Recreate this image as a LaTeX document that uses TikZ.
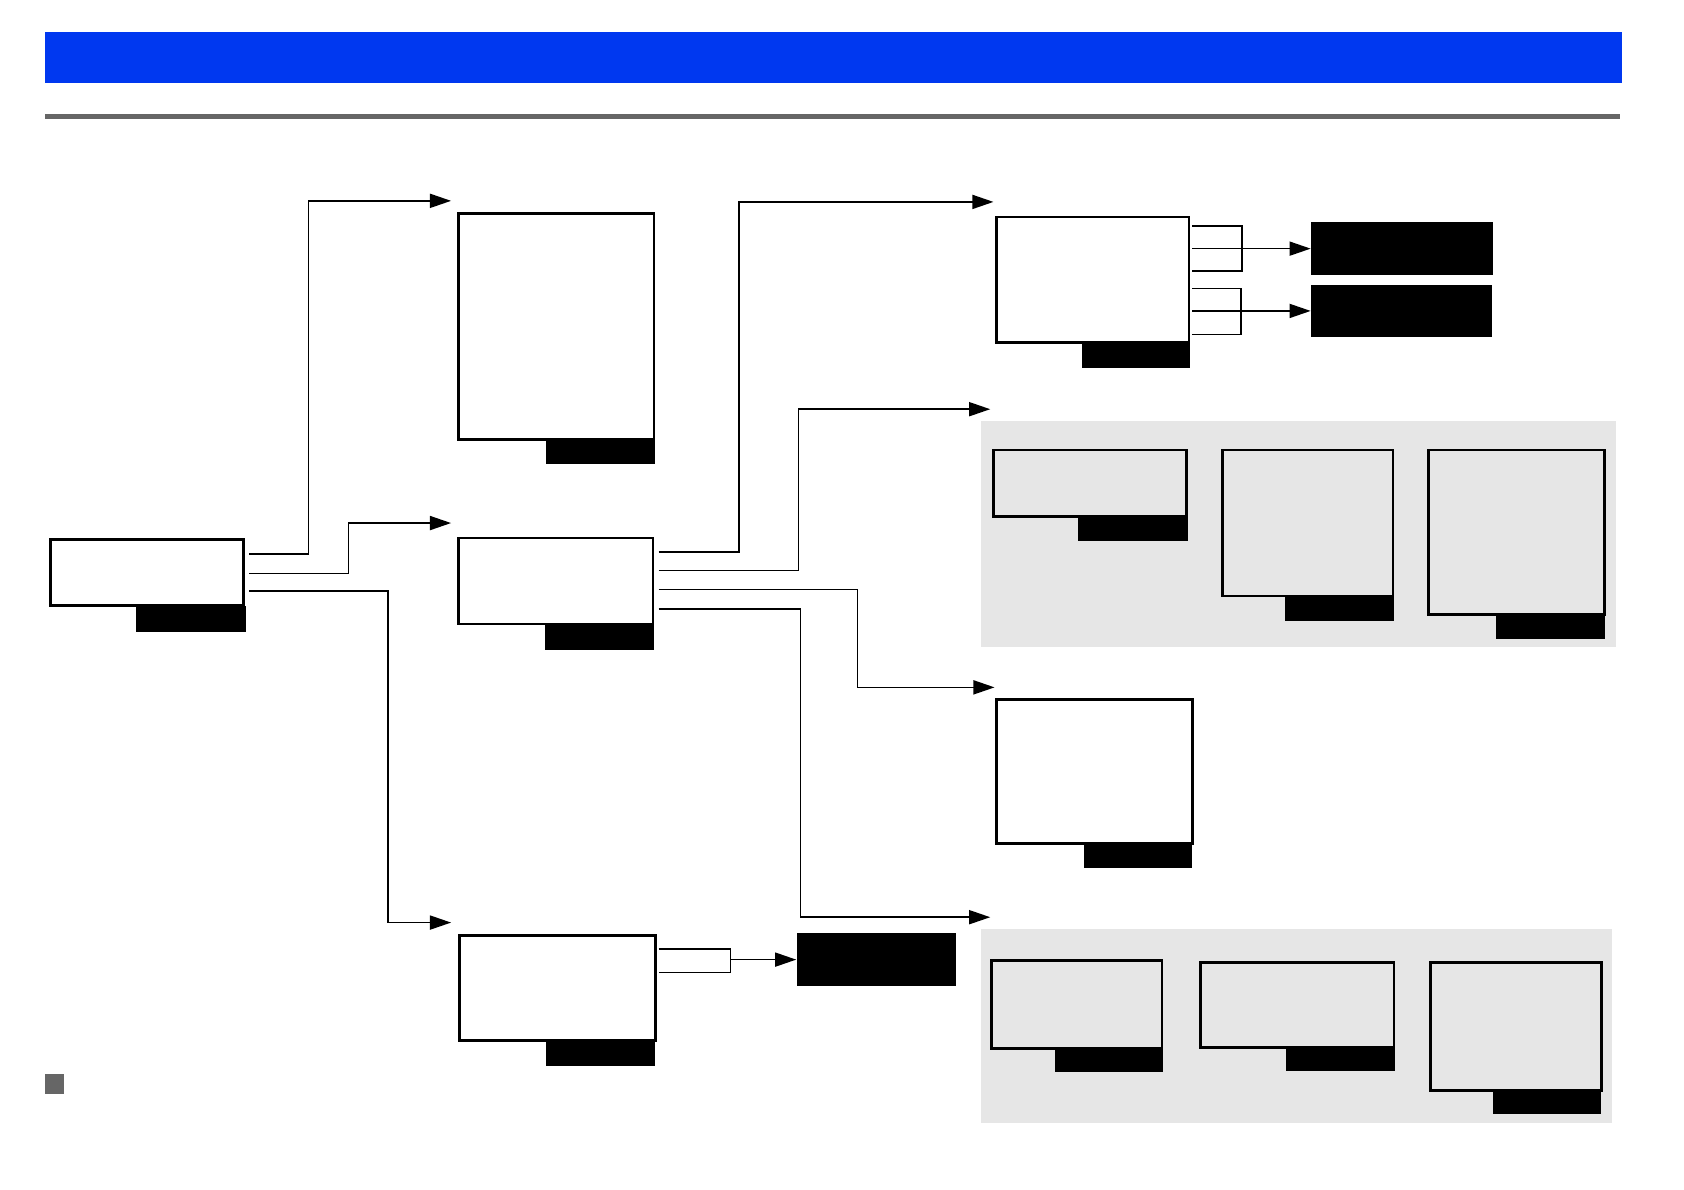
\documentclass[tikz,border=0pt]{standalone}
\usepackage{tikz}
\usepackage{xcolor}
\usetikzlibrary{arrows.meta,fit,backgrounds}
\definecolor{headerblue}{RGB}{0, 56, 240}
\definecolor{rulegray}{RGB}{102, 102, 102}
\definecolor{panelgray}{RGB}{230, 230, 230}

\begin{document}
\begin{tikzpicture}[
    x=0.01074cm, y=-0.01074cm,
    box/.style={rectangle, inner sep=0pt, draw=black, line width=0.8pt},
    tag/.style={rectangle, inner sep=0pt, fill=black},
    panel/.style={rectangle, inner sep=0pt, fill=panelgray},
    link/.style={line width=0.45pt},
    arrow/.style={line width=0.45pt, -{Triangle[length=6pt,width=4pt]}}
]
\useasboundingbox (0,0) rectangle (1568,1108);

% Header
\node[fit={(42,30)(1510,77)}, inner sep=0pt, fill=headerblue] (header) {};
\draw[rulegray, line width=1.2pt] (42,108.5) -- (1508,108.5);
\node[fit={(42,1000)(60,1019)}, inner sep=0pt, fill=rulegray] (marker) {};

% Source
\node[box, fit={(47,502)(227,564)}] (source) {};
\node[tag, fit={(127,564)(229,588)}] (source_tag) {};

% Middle column
\node[box, fit={(427,199)(609,409)}] (upper) {};
\node[tag, fit={(508,409)(610,432)}] (upper_tag) {};
\node[box, fit={(427,501)(608,581)}] (center) {};
\node[tag, fit={(507,581)(609,605)}] (center_tag) {};
\node[box, fit={(428,871)(610,969)}] (lower) {};
\node[tag, fit={(508,969)(610,993)}] (lower_tag) {};
\node[tag, fit={(742,869)(890,918)}] (lower_out) {};

% Right column
\node[box, fit={(928,202)(1107,319)}] (branch) {};
\node[tag, fit={(1007,319)(1108,343)}] (branch_tag) {};
\node[tag, fit={(1221,207)(1390,256)}] (out_a) {};
\node[tag, fit={(1221,265)(1389,314)}] (out_b) {};

\node[box, fit={(925,419)(1105,481)}] (panel_a1) {};
\node[tag, fit={(1004,481)(1106,504)}] (panel_a1_tag) {};
\node[box, fit={(1138,419)(1297,555)}] (panel_a2) {};
\node[tag, fit={(1196,555)(1298,578)}] (panel_a2_tag) {};
\node[box, fit={(1330,419)(1494,572)}] (panel_a3) {};
\node[tag, fit={(1393,572)(1494,595)}] (panel_a3_tag) {};

\node[box, fit={(928,651)(1110,785)}] (single) {};
\node[tag, fit={(1009,785)(1110,808)}] (single_tag) {};

\node[box, fit={(923,894)(1082,976)}] (panel_b1) {};
\node[tag, fit={(982,976)(1083,998)}] (panel_b1_tag) {};
\node[box, fit={(1118,896)(1298,975)}] (panel_b2) {};
\node[tag, fit={(1197,975)(1299,997)}] (panel_b2_tag) {};
\node[box, fit={(1332,896)(1491,1015)}] (panel_b3) {};
\node[tag, fit={(1390,1015)(1491,1037)}] (panel_b3_tag) {};

% Arrow targets
\coordinate (to_upper) at (420,187);
\coordinate (to_center) at (420,487);
\coordinate (to_lower) at (420,859);
\coordinate (to_branch) at (925,188);
\coordinate (to_panel_a) at (922,381);
\coordinate (to_single) at (926,640);
\coordinate (to_panel_b) at (922,854);

% Connections
\draw[arrow] ([shift={(4,-17)}]source.east) -- ++(55,0) |- (to_upper);
\draw[arrow] ([shift={(4,1)}]source.east) -- ++(92,0) |- (to_center);
\draw[arrow] ([shift={(4,17)}]source.east) -- ++(129,0) |- (to_lower);

\draw[arrow] ([shift={(4,-27)}]center.east) -- ++(75,0) |- (to_branch);
\draw[arrow] ([shift={(4,-10)}]center.east) -- ++(130,0) |- (to_panel_a);
\draw[arrow] ([shift={(4,8)}]center.east) -- ++(185,0) |- (to_single);
\draw[arrow] ([shift={(4,26)}]center.east) -- ++(132,0) |- (to_panel_b);

\coordinate (fork_a) at (branch.east |- out_a.west);
\coordinate (fork_b) at (branch.east |- out_b.west);
\coordinate (join_low) at (lower.east |- lower_out.west);
\draw[link] ([shift={(2,-21)}]fork_a) -- ++(46,0) -- ++(0,42) -- ++(-46,0);
\draw[arrow] ([shift={(2,0)}]fork_a) -- (out_a.west);
\draw[link] ([shift={(2,-21)}]fork_b) -- ++(45,0) -- ++(0,43) -- ++(-45,0);
\draw[arrow] ([shift={(2,0)}]fork_b) -- (out_b.west);
\draw[link] ([shift={(2,-10)}]join_low) -- ++(67,0) -- ++(0,22) -- ++(-67,0);
\draw[arrow] ([shift={(69,0)}]join_low) -- (lower_out.west);

% Background panels
\begin{scope}[on background layer]
\node[panel, fit={(913,392)(1505,602)}] (panel_a) {};
\node[panel, fit={(913,865)(1501,1046)}] (panel_b) {};
\end{scope}

\end{tikzpicture}
\end{document}
